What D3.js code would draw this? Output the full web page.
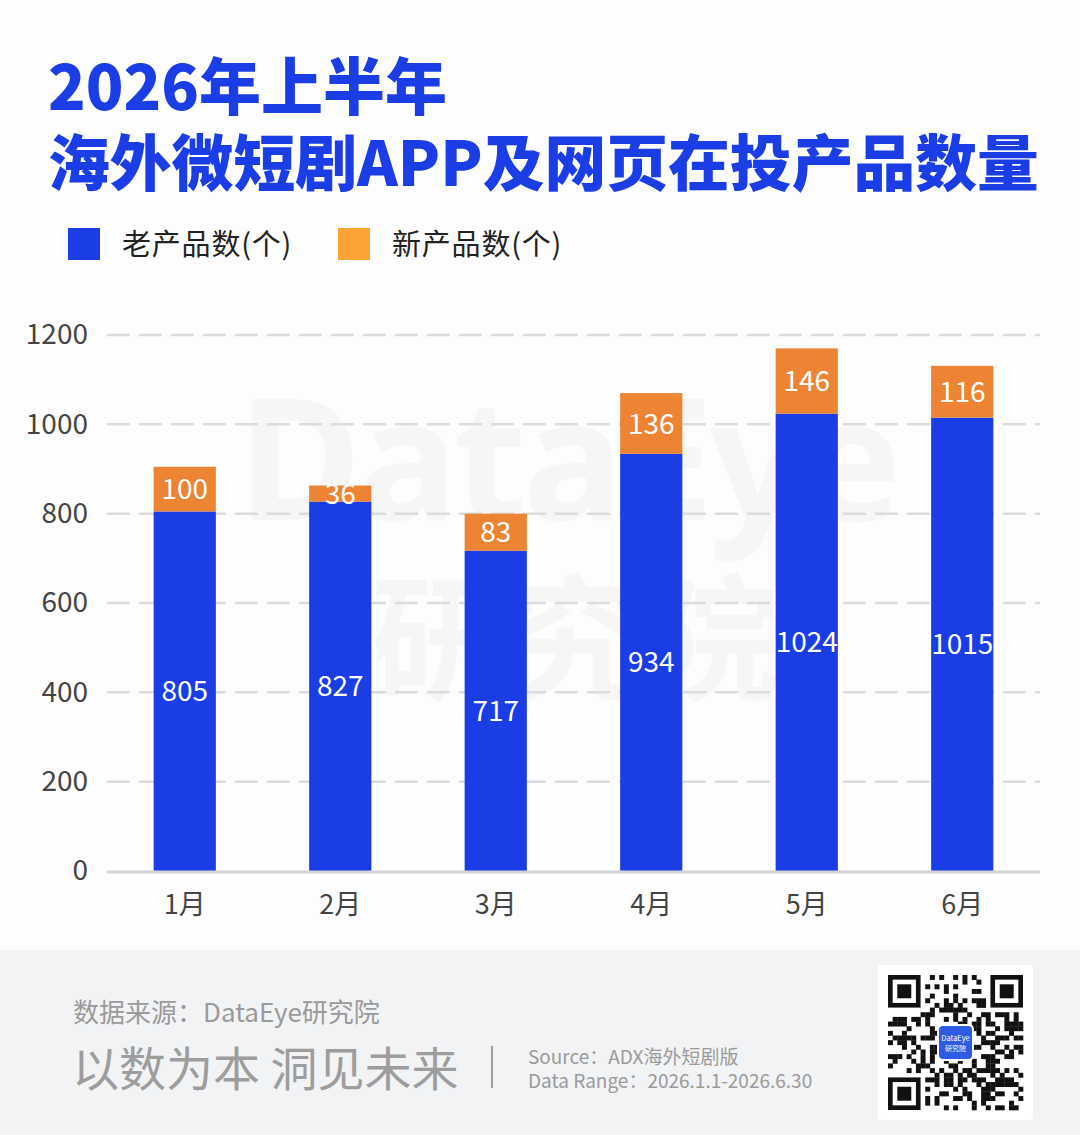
<!DOCTYPE html>
<html>
<head>
<meta charset="utf-8">
<script src="https://cdn.jsdelivr.net/npm/d3@7"></script>
<style>
  html, body { margin: 0; padding: 0; background: #fdfdfd; }
  #chart { width: 1080px; height: 1135px; }
</style>
</head>
<body>
<div id="chart"></div>
<script>
// data
const months = ["1月", "2月", "3月", "4月", "5月", "6月"];
const oldProducts = [805, 827, 717, 934, 1024, 1015];
const newProducts = [100, 36, 83, 136, 146, 116];
const yTicks = [0, 200, 400, 600, 800, 1000, 1200];
const seriesNames = ["老产品数(个)", "新产品数(个)"];

const W = 1080, H = 1135;
const font = "'Noto Sans CJK SC', 'Noto Sans', sans-serif";
const blue = "#1a3de6";
const orange = "#ec8433";
const legendOrange = "#fda436";

const svg = d3.select("#chart").append("svg")
    .attr("width", W)
    .attr("height", H)
    .style("font-family", font);

svg.append("rect").attr("width", W).attr("height", H).attr("fill", "#fdfdfd");

// watermark, very faint
let wm = svg.append("g").attr("fill", "#f6f6f7").attr("text-anchor", "middle")
    .style("font-family", "'Noto Sans', sans-serif").style("font-weight", 700);
wm.append("text").attr("x", 568).attr("y", 520).attr("font-size", 168).attr("letter-spacing", -4).text("DataEye");
wm.append("text").attr("x", 575).attr("y", 690).attr("font-size", 136)
    .style("font-family", font).text("研究院");

// title
let title = svg.append("g").attr("fill", blue).style("font-weight", 900);
title.append("text").attr("x", 48).attr("y", 110).attr("font-size", 62).text("2026年上半年");
title.append("text").attr("x", 48).attr("y", 186).attr("font-size", 61.8).text("海外微短剧APP及网页在投产品数量");

// legend
let legend = svg.append("g").selectAll("g")
    .data(seriesNames)
    .enter().append("g")
    .attr("transform", (d, i) => `translate(${68 + i * 270}, 228)`);
legend.append("rect")
    .attr("width", 32).attr("height", 32)
    .attr("fill", (d, i) => i === 0 ? blue : legendOrange);
legend.append("text")
    .attr("x", 54).attr("y", 27)
    .attr("font-size", 29).attr("letter-spacing", 0.8).attr("fill", "#222")
    .text(d => d);

// scales
const x = d3.scaleBand().domain(months).range([107, 1040]).paddingInner(0.6).paddingOuter(0.3);
const y = d3.scaleLinear().domain([0, 1200]).range([871, 335]);

// gridlines
svg.append("g").selectAll("line")
    .data(yTicks.filter(d => d > 0))
    .enter().append("line")
    .attr("x1", 107).attr("x2", 1040)
    .attr("y1", d => y(d)).attr("y2", d => y(d))
    .attr("stroke", "#dcdcdc").attr("stroke-width", 2.5)
    .attr("stroke-dasharray", "23 9");

// y axis labels
let yAxis = svg.append("g")
    .attr("transform", "translate(100,0)")
    .call(d3.axisLeft(y).tickValues(yTicks).tickFormat(d3.format("d")).tickSize(0).tickPadding(12));
yAxis.select(".domain").remove();
yAxis.selectAll("text")
    .attr("font-size", 28).attr("fill", "#444").style("font-family", font);

// stacked bars
const rows = months.map((m, i) => ({month: m, old: oldProducts[i], neu: newProducts[i]}));
const stack = d3.stack().keys(["old", "neu"])(rows);

let layers = svg.append("g").selectAll("g")
    .data(stack)
    .enter().append("g")
    .attr("fill", (d, i) => i === 0 ? blue : orange);

layers.selectAll("rect")
    .data(d => d)
    .enter().append("rect")
    .attr("x", d => x(d.data.month))
    .attr("width", x.bandwidth())
    .attr("y", d => y(d[1]))
    .attr("height", d => y(d[0]) - y(d[1]));

layers.selectAll("text")
    .data(d => d)
    .enter().append("text")
    .attr("x", d => x(d.data.month) + x.bandwidth() / 2)
    .attr("y", d => y((d[0] + d[1]) / 2))
    .attr("dy", "0.36em")
    .attr("text-anchor", "middle")
    .attr("font-size", 28)
    .attr("fill", "#fff")
    .text(d => d[1] - d[0]);

// baseline
svg.append("line")
    .attr("x1", 107).attr("x2", 1040)
    .attr("y1", y(0) + 1).attr("y2", y(0) + 1)
    .attr("stroke", "#d4d4d8").attr("stroke-width", 3);

// x axis labels
let xAxis = svg.append("g")
    .attr("transform", `translate(0, ${y(0)})`)
    .call(d3.axisBottom(x).tickSize(0).tickPadding(24));
xAxis.select(".domain").remove();
xAxis.selectAll("text")
    .attr("font-size", 27).attr("fill", "#444").style("font-family", font);

// footer
let footer = svg.append("g");
footer.append("rect").attr("x", 0).attr("y", 950).attr("width", W).attr("height", H - 950).attr("fill", "#f2f3f5");
footer.append("text").attr("x", 73).attr("y", 1022).attr("font-size", 26).attr("fill", "#9a9a9a")
    .text("数据来源：DataEye研究院");
footer.append("text").attr("x", 72).attr("y", 1086).attr("font-size", 47).attr("fill", "#9d9d9d")
    .text("以数为本 洞见未来");
footer.append("line").attr("x1", 492).attr("x2", 492).attr("y1", 1046).attr("y2", 1088)
    .attr("stroke", "#9d9d9d").attr("stroke-width", 2);
footer.append("text").attr("x", 528).attr("y", 1064).attr("font-size", 19).attr("fill", "#9a9a9a")
    .text("Source：ADX海外短剧版");
footer.append("text").attr("x", 528).attr("y", 1088).attr("font-size", 19).attr("fill", "#9a9a9a")
    .text("Data Range：2026.1.1-2026.6.30");

// QR code (decorative)
let qr = footer.append("g").attr("transform", "translate(878,965)");
qr.append("rect").attr("width", 155).attr("height", 155).attr("fill", "#fff").attr("rx", 3);
const n = 29, cell = 135 / n;
let cells = [];
for (let r = 0; r < n; r++) {
    for (let c = 0; c < n; c++) {
        let inFinder = (r < 8 && c < 8) || (r < 8 && c >= n - 8) || (r >= n - 8 && c < 8);
        if (inFinder) continue;
        let h = ((r * 73856093) ^ (c * 19349663) ^ (r * c * 83492791)) >>> 0;
        if (h % 7 < 3) cells.push([r, c]);
    }
}
let qrg = qr.append("g").attr("transform", "translate(10,10)").attr("fill", "#111");
qrg.selectAll(".m").data(cells).enter().append("rect")
    .attr("x", d => d[1] * cell).attr("y", d => d[0] * cell)
    .attr("width", cell + 0.3).attr("height", cell + 0.3);
[[0, 0], [0, n - 7], [n - 7, 0]].forEach(([r, c]) => {
    qrg.append("rect").attr("x", c * cell + cell / 2).attr("y", r * cell + cell / 2)
        .attr("width", cell * 6).attr("height", cell * 6)
        .attr("fill", "none").attr("stroke", "#111").attr("stroke-width", cell);
    qrg.append("rect").attr("x", (c + 2) * cell).attr("y", (r + 2) * cell)
        .attr("width", cell * 3).attr("height", cell * 3);
});
qr.append("rect").attr("x", 59).attr("y", 59).attr("width", 37).attr("height", 37).attr("fill", "#fff").attr("rx", 5);
qr.append("rect").attr("x", 61).attr("y", 61).attr("width", 33).attr("height", 33).attr("fill", "#2d5be3").attr("rx", 4);
qr.append("text").attr("x", 77.5).attr("y", 76).attr("text-anchor", "middle").attr("font-size", 7.5)
    .attr("fill", "#fff").text("DataEye");
qr.append("text").attr("x", 77.5).attr("y", 86).attr("text-anchor", "middle").attr("font-size", 7)
    .attr("fill", "#fff").text("研究院");
</script>
</body>
</html>
